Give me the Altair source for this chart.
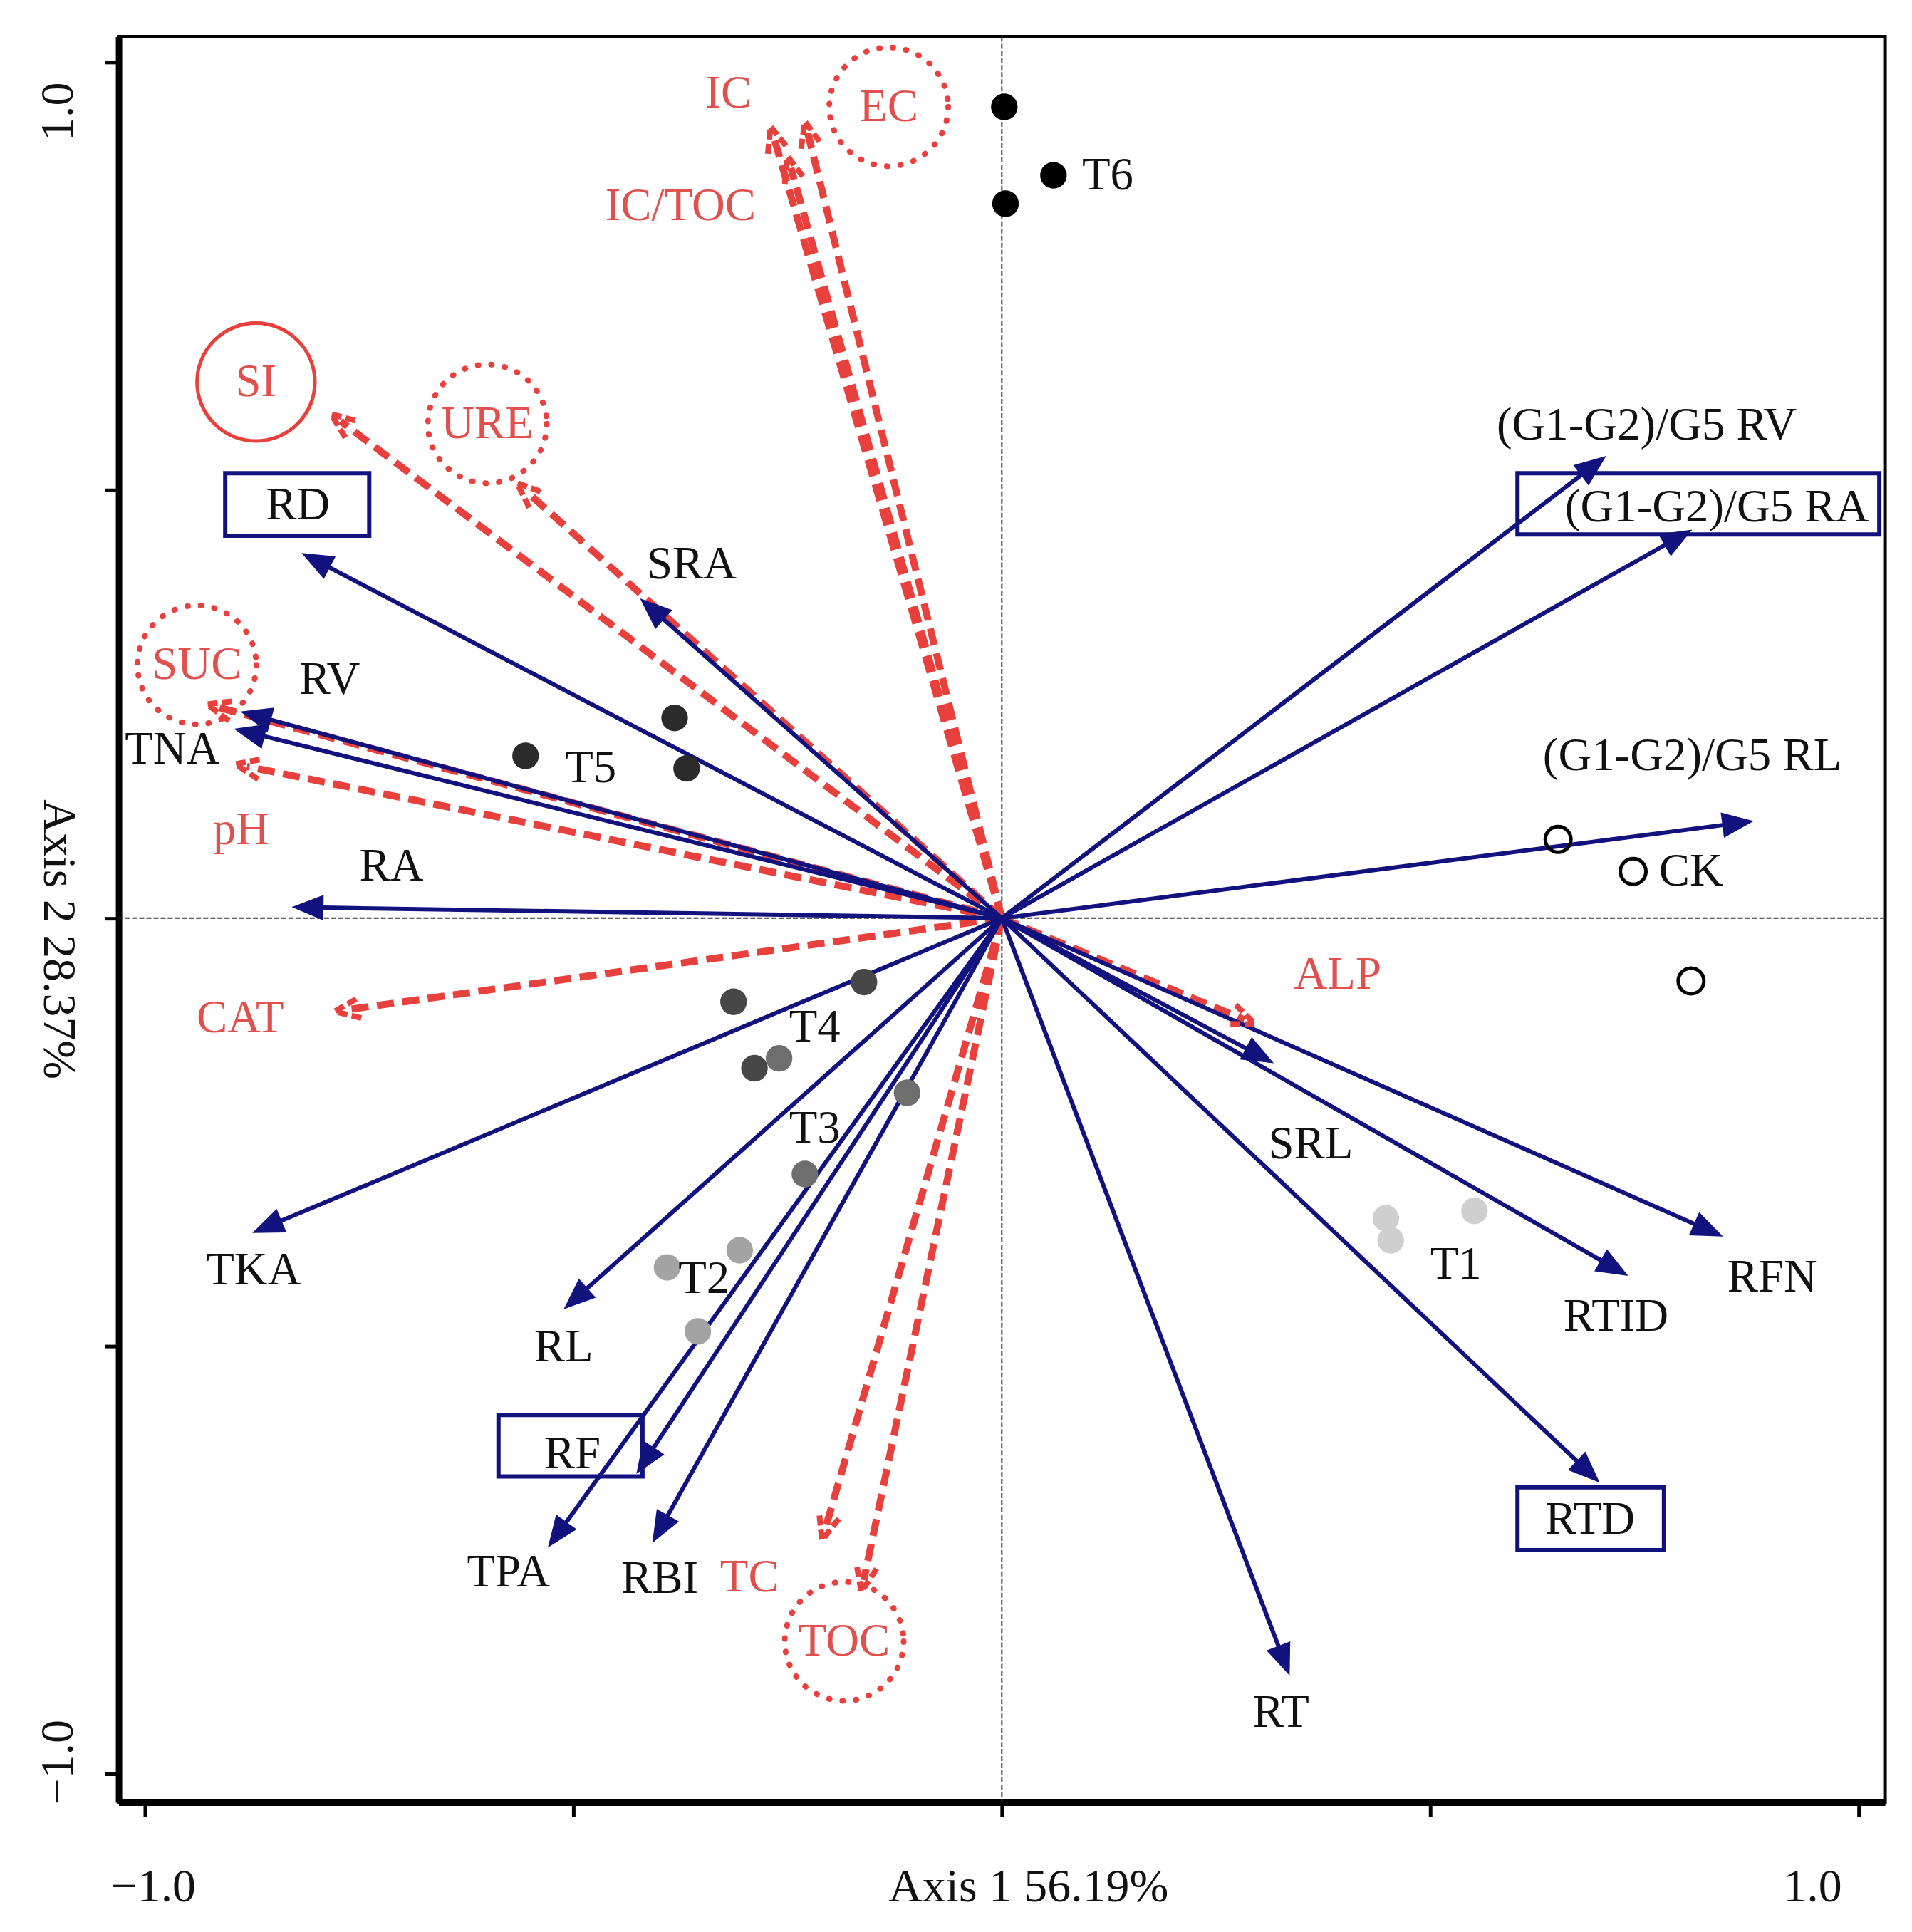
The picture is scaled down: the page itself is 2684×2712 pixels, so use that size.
import altair as alt
import pandas as pd

# ---------------- data ----------------
# root trait vectors (blue arrows)
blue_names = ["RD", "RV", "TNA", "SRA", "RA", "TKA", "RL", "RF", "TPA", "RBI",
              "RT", "RTD", "RTID", "RFN", "SRL",
              "(G1-G2)/G5 RL", "(G1-G2)/G5 RA", "(G1-G2)/G5 RV"]
blue_x = [-0.8175, -0.889, -0.8966, -0.4224, -0.829, -0.875, -0.5115, -0.4267, -0.530, -0.408,
          0.336, 0.698, 0.7313, 0.842, 0.3175, 0.8779, 0.806, 0.7055]
blue_y = [0.4267, 0.2414, 0.2213, 0.3736, 0.0129, -0.3678, -0.4569, -0.6494, -0.7356, -0.730,
          -0.885, -0.6595, -0.418, -0.372, -0.1695, 0.1135, 0.454, 0.540]
blue_label_x = [-0.8218, -0.7845, -0.9684, -0.362, -0.7126, -0.8736, -0.5115, -0.5014, -0.576, -0.3994,
                0.326, 0.6868, 0.717, 0.8994, 0.3606, 0.806, 0.8348, 0.7529]
blue_label_y = [0.4828, 0.2787, 0.1968, 0.4138, 0.0603, -0.411, -0.5014, -0.6264, -0.7644, -0.7716,
                -0.928, -0.7026, -0.4655, -0.4195, -0.2644, 0.1897, 0.4799, 0.5761]

# soil property vectors (red dashed arrows)
red_names = ["SI", "URE", "SUC", "pH", "CAT", "IC", "IC/TOC", "EC", "ALP", "TC", "TOC"]
red_x = [-0.783, -0.566, -0.928, -0.895, -0.779, -0.270, -0.250, -0.2299, 0.296, -0.210, -0.164]
red_y = [0.589, 0.5086, 0.250, 0.180, -0.109, 0.9253, 0.890, 0.931, -0.124, -0.727, -0.787]
red_label_x = [-0.8707, -0.6006, -0.9397, -0.888, -0.889, -0.319, -0.375, -0.132, 0.392, -0.2945, -0.184]
red_label_y = [0.6264, 0.5776, 0.296, 0.1034, -0.1164, 0.964, 0.832, 0.948, -0.066, -0.770, -0.845]

# highlighted soil properties (circles)
solid_circle = ["SI"]
dotted_circle = ["URE", "SUC", "EC", "TOC"]

# highlighted root traits (boxes)
box_names = ["RD", "RF", "RTD", "(G1-G2)/G5 RA"]
box_x1 = [-0.9066, -0.5876, 0.602, 0.602]
box_x2 = [-0.7385, -0.4195, 0.773, 1.0244]
box_y1 = [0.4468, -0.6523, -0.7385, 0.4483]
box_y2 = [0.520, -0.5805, -0.665, 0.520]

# sample sites
site_group = ["T6", "T6", "T6", "T5", "T5", "T5", "T4", "T4", "T4",
              "T3", "T3", "T3", "T2", "T2", "T2", "T1", "T1", "T1", "CK", "CK", "CK"]
site_x = [0.0029, 0.0603, 0.0043, -0.556, -0.382, -0.368, -0.3132, -0.1609, -0.2888,
          -0.260, -0.1106, -0.2299, -0.3908, -0.306, -0.3549, 0.4483, 0.5517, 0.454,
          0.6494, 0.737, 0.8046]
site_y = [0.948, 0.868, 0.8348, 0.1897, 0.234, 0.175, -0.0977, -0.0747, -0.1753,
          -0.1638, -0.204, -0.2989, -0.408, -0.388, -0.4828, -0.3506, -0.342, -0.3764,
          0.092, 0.0546, -0.0733]
group_names = ["T6", "T5", "T4", "T3", "T2", "T1", "CK"]
group_label_x = [0.1236, -0.480, -0.2184, -0.2184, -0.3477, 0.530, 0.8046]
group_label_y = [0.8678, 0.1753, -0.1279, -0.2457, -0.421, -0.405, 0.0546]
group_colors = ["#000000", "#2b2b2b", "#474747", "#6e6e6e", "#a3a3a3", "#cfcfcf"]

x_ticks = [-1.0, -0.5, 0.0, 0.5, 1.0]
y_ticks = [-1.0, -0.5, 0.0, 0.5, 1.0]

# ---------------- styling ----------------
BLUE = "#12127f"
RED = "#e8403c"
RED_TXT = "#e0504d"
INK = "#111111"
SERIF = "Liberation Serif"
FS = 65
W, H = 2486, 2485

xs = alt.Scale(domain=[-1.031, 1.031], nice=False, zero=False)
ys = alt.Scale(domain=[-1.033, 1.030], nice=False, zero=False)

ARROW = "M0,0L0.8,2L-0.8,2Z"
CHEVRON = "M-0.8,2L0,0L0.8,2"

blue_df = pd.DataFrame({"name": blue_names, "x": blue_x, "y": blue_y,
                        "lx": blue_label_x, "ly": blue_label_y, "o": 0.0})
red_df = pd.DataFrame({"name": red_names, "x": red_x, "y": red_y,
                       "lx": red_label_x, "ly": red_label_y, "o": 0.0})
site_df = pd.DataFrame({"group": site_group, "x": site_x, "y": site_y})
glab_df = pd.DataFrame({"group": group_names, "x": group_label_x, "y": group_label_y})
box_df = pd.DataFrame({"name": box_names, "x1": box_x1, "x2": box_x2, "y1": box_y1, "y2": box_y2})
zero_df = pd.DataFrame({"z": [0.0]})

circ_df = red_df[red_df["name"].isin(solid_circle + dotted_circle)].copy()
circ_df["style"] = ["solid" if n in solid_circle else "dotted" for n in circ_df["name"]]

x_axis = alt.Axis(
    values=x_ticks,
    labelExpr="datum.value == -1 ? '\u22121.0' : (datum.value == 1 ? '1.0' : '')",
    title="Axis 1 56.19%", grid=False,
    domainColor="black", domainWidth=9, tickColor="black", tickWidth=5, tickSize=20,
    labelFont=SERIF, labelFontSize=66, labelColor=INK, labelPadding=67,
    labelBaseline="top", labelAlign="center", labelFlush=False, labelOverlap=False,
    labelOffset={"condition": {"test": "datum.value == 1", "value": -65}, "value": 11},
    titleFont=SERIF, titleFontSize=66, titleFontWeight="normal", titleColor=INK,
    titleX=1280, titleY=87, titleAlign="center", titleBaseline="top",
)
y_axis = alt.Axis(
    values=y_ticks,
    labelExpr="datum.value == -1 ? '\u22121.0' : (datum.value == 1 ? '1.0' : '')",
    title="Axis 2 28.37%", grid=False,
    domainColor="black", domainWidth=9, tickColor="black", tickWidth=5, tickSize=20,
    labelFont=SERIF, labelFontSize=66, labelColor=INK, labelPadding=65,
    labelAngle=270, labelBaseline="middle", labelAlign="center",
    labelFlush=False, labelOverlap=False,
    labelOffset={"condition": {"test": "datum.value == 1", "value": 69}, "value": -17},
    titleFont=SERIF, titleFontSize=66, titleFontWeight="normal", titleColor=INK,
    titleAngle=90, titleX=-85, titleY=1270, titleAlign="center", titleBaseline="middle",
)


def X(field):
    return alt.X(field, scale=xs, axis=x_axis)


def Y(field):
    return alt.Y(field, scale=ys, axis=y_axis)


# reference lines through the origin
vline = alt.Chart(zero_df).mark_rule(color="#333333", strokeWidth=2, strokeDash=[7, 3]).encode(
    x=X("z:Q"))
hline = alt.Chart(zero_df).mark_rule(color="#333333", strokeWidth=2, strokeDash=[7, 3]).encode(
    y=Y("z:Q"))


def vec_calc(ch, back):
    return ch.transform_calculate(
        len="sqrt(datum.x*datum.x + datum.y*datum.y)"
    ).transform_calculate(
        ex=f"datum.x * (1 - {back} / datum.len)",
        ey=f"datum.y * (1 - {back} / datum.len)",
        ang="(atan2(datum.x, datum.y) * 180 / PI + 360) % 360",
    )


red_lines = vec_calc(alt.Chart(red_df), 0.014).mark_rule(
    color=RED, strokeWidth=10, strokeDash=[24, 12]).encode(
    x=X("o:Q"), y=Y("o:Q"), x2="ex:Q", y2="ey:Q")
red_heads = vec_calc(alt.Chart(red_df), 0.0).mark_point(
    shape=CHEVRON, filled=False, size=1300, color=RED, strokeWidth=8, opacity=1,
    strokeDash=[14, 6]).encode(
    x=X("x:Q"), y=Y("y:Q"), angle=alt.Angle("ang:Q", scale=None))

blue_lines = vec_calc(alt.Chart(blue_df), 0.025).mark_rule(
    color=BLUE, strokeWidth=6).encode(
    x=X("o:Q"), y=Y("o:Q"), x2="ex:Q", y2="ey:Q")
blue_heads = vec_calc(alt.Chart(blue_df), 0.0).mark_point(
    shape=ARROW, filled=True, size=2000, color=BLUE, opacity=1).encode(
    x=X("x:Q"), y=Y("y:Q"), angle=alt.Angle("ang:Q", scale=None))

filled_sites = alt.Chart(site_df).transform_filter("datum.group != 'CK'").mark_point(
    shape="circle", filled=True, size=1400, opacity=1).encode(
    x=X("x:Q"), y=Y("y:Q"),
    color=alt.Color("group:N", scale=alt.Scale(domain=group_names[:6], range=group_colors),
                    legend=None))
open_sites = alt.Chart(site_df).transform_filter("datum.group == 'CK'").mark_point(
    shape="circle", filled=False, size=1300, color="black", strokeWidth=5, opacity=1).encode(
    x=X("x:Q"), y=Y("y:Q"))

site_text = alt.Chart(glab_df).mark_text(font=SERIF, fontSize=FS, color=INK,
                                         align="center", baseline="middle").encode(
    x=X("x:Q"), y=Y("y:Q"), text="group:N")

blue_text = alt.Chart(blue_df).mark_text(font=SERIF, fontSize=FS, color=INK,
                                         align="center", baseline="middle").encode(
    x=X("lx:Q"), y=Y("ly:Q"), text="name:N")
red_text = alt.Chart(red_df).mark_text(font=SERIF, fontSize=FS, color=RED_TXT,
                                       align="center", baseline="middle").encode(
    x=X("lx:Q"), y=Y("ly:Q"), text="name:N")

boxes = alt.Chart(box_df).mark_rect(fill="white", fillOpacity=0, stroke=BLUE, strokeWidth=6).encode(
    x=X("x1:Q"), x2="x2:Q", y=Y("y1:Q"), y2="y2:Q")

solid_circles = alt.Chart(circ_df).transform_filter("datum.style == 'solid'").mark_point(
    shape="circle", filled=False, size=27500, color=RED, strokeWidth=5, opacity=1).encode(
    x=X("lx:Q"), y=Y("ly:Q"))
dotted_circles = alt.Chart(circ_df).transform_filter("datum.style == 'dotted'").mark_point(
    shape="circle", filled=False, size=28000, color=RED, strokeWidth=8, opacity=1,
    strokeDash=[1, 18], strokeCap="round").encode(
    x=X("lx:Q"), y=Y("ly:Q"))

chart = alt.layer(
    vline, hline, red_lines, blue_lines, red_heads, blue_heads,
    filled_sites, open_sites, boxes, solid_circles, dotted_circles,
    blue_text, red_text, site_text,
).properties(
    width=W, height=H,
    padding={"left": 159, "top": 40, "right": 30, "bottom": 170},
    autosize=alt.AutoSizeParams(type="none"),
    background="white",
).configure_view(stroke="black", strokeWidth=5)

chart.save("out.html", embed_options={"renderer": "svg", "actions": False})
